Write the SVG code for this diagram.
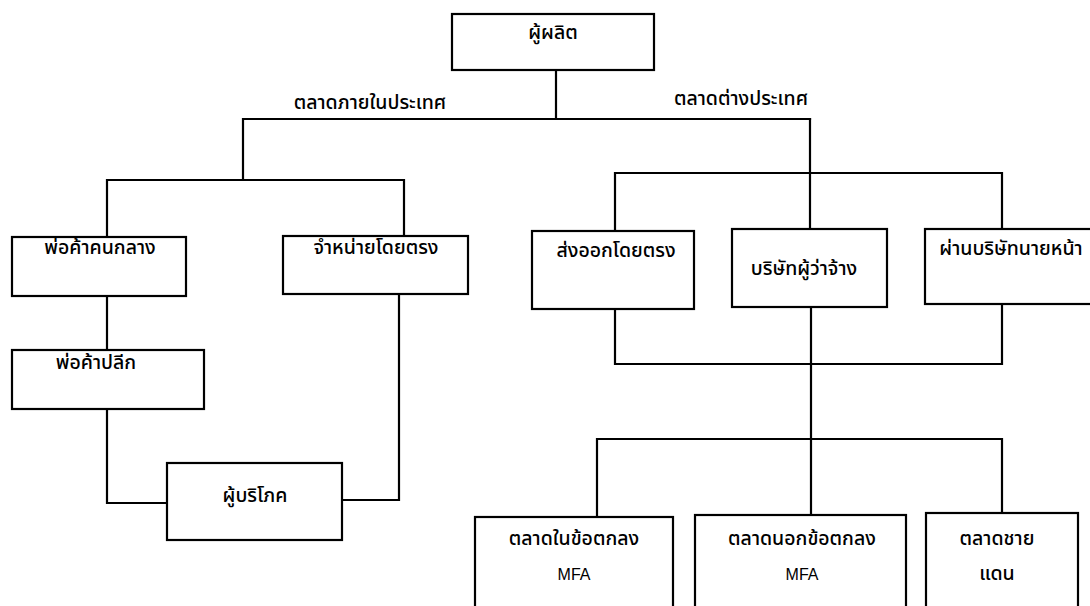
<svg xmlns="http://www.w3.org/2000/svg" width="1090" height="606" viewBox="0 0 1090 606">
<style>
.box{fill:#fff;stroke:#000;stroke-width:2.2}
.ln{fill:none;stroke:#000;stroke-width:2.2;stroke-linecap:square}
text{font-family:"Noto Sans Thai","Noto Sans","DejaVu Sans",sans-serif;font-size:19.5px;font-weight:500;fill:#000;text-anchor:middle}
.en{font-family:"Liberation Sans",Arial,sans-serif;font-size:16px;font-weight:normal}
</style>
<rect width="1090" height="606" fill="#fff"/>
<g id="connectors">
<path class="ln" d="M556,70V119M243,119H810M243,119V180M107,180H404M107,180V237M404,180V236"/>
<path class="ln" d="M107,296V350M107,409V503H167M399,294V500H342"/>
<path class="ln" d="M810,119V229M615,173H1002M615,173V231M1002,173V229"/>
<path class="ln" d="M615,309V364H1002V304M811,307V515M597,439H1002M597,439V517M1002,439V513"/>
</g>
<g id="label-domestic"><text x="370" y="109">ตลาดภายในประเทศ</text></g>
<g id="label-foreign"><text x="741" y="105">ตลาดต่างประเทศ</text></g>
<g id="producer"><rect class="box" x="452" y="14" width="202" height="56"/><text x="553" y="39">ผู้ผลิต</text></g>
<g id="middleman"><rect class="box" x="12" y="237" width="174" height="59"/><text x="100" y="254">พ่อค้าคนกลาง</text></g>
<g id="direct-sale"><rect class="box" x="283" y="236" width="185" height="58"/><text x="376" y="254">จำหน่ายโดยตรง</text></g>
<g id="retailer"><rect class="box" x="12" y="350" width="192" height="59"/><text x="96" y="369">พ่อค้าปลีก</text></g>
<g id="consumer"><rect class="box" x="167" y="463" width="175" height="77"/><text x="255" y="502">ผู้บริโภค</text></g>
<g id="direct-export"><rect class="box" x="532" y="231" width="162" height="78"/><text x="616" y="257">ส่งออกโดยตรง</text></g>
<g id="contractor"><rect class="box" x="732" y="229" width="155" height="78"/><text x="804" y="275">บริษัทผู้ว่าจ้าง</text></g>
<g id="broker"><rect class="box" x="925" y="229" width="172" height="75"/><text x="1011" y="255">ผ่านบริษัทนายหน้า</text></g>
<g id="mfa-in"><rect class="box" x="475" y="517" width="198" height="100"/><text x="574" y="545">ตลาดในข้อตกลง</text><text class="en" x="574" y="580">MFA</text></g>
<g id="mfa-out"><rect class="box" x="695" y="515" width="211" height="100"/><text x="802" y="545">ตลาดนอกข้อตกลง</text><text class="en" x="802" y="580">MFA</text></g>
<g id="border"><rect class="box" x="926" y="513" width="152" height="100"/><text x="997" y="545">ตลาดชาย</text><text x="997" y="580">แดน</text></g>
</svg>
